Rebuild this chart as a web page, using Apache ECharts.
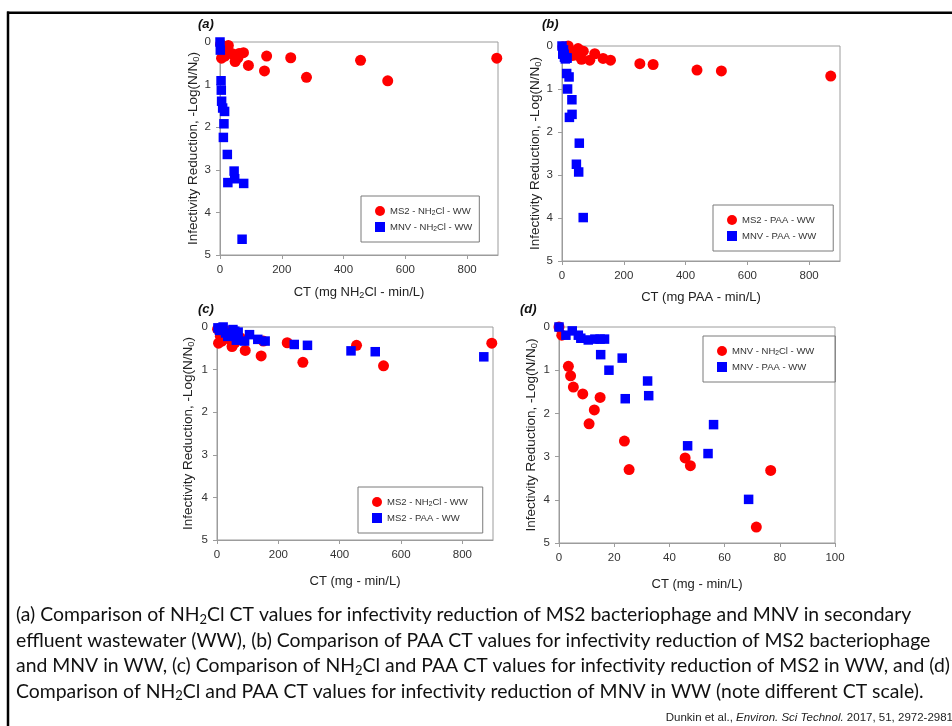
<!DOCTYPE html>
<html>
<head>
<meta charset="utf-8">
<script src="https://cdn.jsdelivr.net/npm/echarts@6/dist/echarts.min.js"></script>
<style>
  html, body { margin: 0; padding: 0; background: #ffffff; }
  #chart { width: 952px; height: 726px; }
</style>
</head>
<body>
<div id="chart"></div>
<script>
// Infectivity reduction data, each point is [CT (mg·min/L), -log(N/N0)]
const ms2Nh2cl = [
  [2, 0.05], [5, 0.38], [11, 0.22], [16, 0.33], [22, 0.12], [27, 0.08], [38, 0.27],
  [45, 0.30], [49, 0.46], [58, 0.37], [62, 0.27], [76, 0.25], [92, 0.55], [144, 0.68],
  [151, 0.33], [229, 0.37], [280, 0.83], [455, 0.43], [543, 0.91], [896, 0.38]
];
const mnvNh2cl = [
  [0, 0.0], [1, 0.19], [3.4, 0.91], [4.2, 1.13], [5.2, 1.39], [8.6, 1.55], [10.9, 2.24],
  [12.8, 1.92], [14.9, 1.63], [23.7, 2.64], [25.4, 3.30], [45.7, 3.03], [47.6, 3.21],
  [71.5, 4.63], [76.7, 3.32]
];
const ms2Paa = [
  [3, 0.02], [8, 0.08], [14, 0.03], [20, 0.0], [28, 0.14], [35, 0.22], [47, 0.21],
  [52, 0.06], [58, 0.10], [63, 0.31], [69, 0.12], [90, 0.33], [106, 0.18], [133, 0.29],
  [157, 0.33], [252, 0.41], [295, 0.43], [437, 0.56], [516, 0.58], [870, 0.70]
];
const mnvPaa = [
  [0, 0.0], [2.5, 0.19], [4.8, 0.09], [7.0, 0.19], [7.9, 0.26], [10.6, 0.30], [13.0, 0.28],
  [14.9, 0.28], [16.5, 0.28], [15.1, 0.64], [18.1, 1.00], [22.9, 0.72], [24.0, 1.66],
  [32.1, 1.25], [32.5, 1.59], [46.6, 2.75], [54.0, 2.93], [56.0, 2.26], [68.7, 3.99]
];

// Axis ticks
const ctTicksWide = [0, 200, 400, 600, 800];
const ctTicksNarrow = [0, 20, 40, 60, 80, 100];
const reductionTicks = [0, 1, 2, 3, 4, 5];

// Text
const panelLabels = ['(a)', '(b)', '(c)', '(d)'];
const xTitles = [
  'CT (mg NH{s|2}Cl - min/L)',
  'CT (mg PAA - min/L)',
  'CT (mg - min/L)',
  'CT (mg - min/L)'
];
const yTitle = 'Infectivity Reduction, -Log(N/N{s|0})';
const legendText = {
  'a-ms2': 'MS2 - NH{s|2}Cl - WW',
  'a-mnv': 'MNV - NH{s|2}Cl - WW',
  'b-ms2': 'MS2 - PAA - WW',
  'b-mnv': 'MNV - PAA - WW',
  'c-nh2cl': 'MS2 - NH{s|2}Cl - WW',
  'c-paa': 'MS2 - PAA - WW',
  'd-nh2cl': 'MNV - NH{s|2}Cl - WW',
  'd-paa': 'MNV - PAA - WW'
};
const captionLines = [
  '(a) Comparison of NH{s|2}Cl CT values for infectivity reduction of MS2 bacteriophage and MNV in secondary',
  'effluent wastewater (WW), (b) Comparison of PAA CT values for infectivity reduction of MS2 bacteriophage',
  'and MNV in WW, (c) Comparison of NH{s|2}Cl and PAA CT values for infectivity reduction of MS2 in WW, and (d)',
  'Comparison of NH{s|2}Cl and PAA CT values for infectivity reduction of MNV in WW (note different CT scale).'
];
const citation = 'Dunkin et al., {i|Environ. Sci Technol.} 2017, 51, 2972-2981';

const RED = '#ff0000';
const BLUE = '#0000ff';
const GRAY = '#9c9c9c';
const SANS = "Arial, 'Liberation Sans', sans-serif";

const grids = [
  { left: 220, top: 42, width: 278, height: 213 },
  { left: 562, top: 46, width: 278, height: 215 },
  { left: 217, top: 327, width: 276, height: 213 },
  { left: 559, top: 327, width: 276, height: 216 }
].map(g => Object.assign({ show: true, borderColor: GRAY, borderWidth: 1, backgroundColor: 'transparent' }, g));

const subRich = (base) => ({
  s: { fontFamily: SANS, fontSize: base * 0.7, lineHeight: 4, verticalAlign: 'bottom', color: '#222' }
});

// per-panel gaps between axis lines and their titles
const xNameGaps = [30, 29, 34, 34];
const yNameGaps = [18, 18, 21, 20];

function makeX(i, max, ticks) {
  return {
    type: 'value', gridIndex: i, min: 0, max: max,
    axisLine: { show: true, onZero: false, lineStyle: { color: GRAY } },
    axisTick: { show: true, customValues: ticks, length: 4, lineStyle: { color: GRAY } },
    axisLabel: { customValues: ticks, color: '#333', fontFamily: SANS, fontSize: 11.5, margin: 9 },
    splitLine: { show: false },
    name: xTitles[i], nameLocation: 'middle', nameGap: xNameGaps[i],
    nameTextStyle: { color: '#222', fontFamily: SANS, fontSize: 13, lineHeight: 15, rich: subRich(13) }
  };
}
function makeY(i) {
  return {
    type: 'value', gridIndex: i, min: 0, max: 5, interval: 1, inverse: true,
    axisLine: { show: true, onZero: false, lineStyle: { color: GRAY } },
    axisTick: { show: true, customValues: reductionTicks, length: 4, lineStyle: { color: GRAY } },
    axisLabel: { customValues: reductionTicks, color: '#333', fontFamily: SANS, fontSize: 11.5, margin: 9 },
    splitLine: { show: false },
    name: yTitle, nameLocation: 'middle', nameRotate: 90, nameGap: yNameGaps[i],
    nameTextStyle: { color: '#222', fontFamily: SANS, fontSize: 13.5, lineHeight: 15, rich: subRich(13.5) }
  };
}

function scatter(name, i, data, color, shape) {
  return {
    type: 'scatter', name: name, xAxisIndex: i, yAxisIndex: i, data: data,
    symbol: shape, symbolSize: shape === 'circle' ? 11 : 9.5,
    itemStyle: { color: color, opacity: 1 },
    emphasis: { disabled: true }, animation: false
  };
}

function makeLegend(names, left, top, padRight) {
  return {
    data: [{ name: names[0], icon: 'circle' }, { name: names[1], icon: 'rect' }],
    orient: 'vertical', left: left, top: top,
    itemWidth: 10, itemHeight: 10, itemGap: 4,
    padding: [9, padRight, 9, 14],
    borderColor: '#7a7a7a', borderWidth: 1, borderRadius: 0,
    selectedMode: false,
    formatter: n => legendText[n],
    textStyle: { color: '#333', fontFamily: SANS, fontSize: 9.5, lineHeight: 12, rich: subRich(9.5) }
  };
}

const panelLabelPos = [[198, 18], [542, 18], [198, 303], [520, 303]];
const graphics = [
  { type: 'line', shape: { x1: 7, y1: 12.75, x2: 952, y2: 12.75 }, style: { stroke: '#000', lineWidth: 2.5 } },
  { type: 'line', shape: { x1: 8, y1: 11.5, x2: 8, y2: 726 }, style: { stroke: '#000', lineWidth: 2.5 } }
];
panelLabels.forEach((t, i) => {
  graphics.push({
    type: 'text', x: panelLabelPos[i][0], y: panelLabelPos[i][1],
    style: { text: t, fontFamily: SANS, fontSize: 13, fontWeight: 'bold', fontStyle: 'italic', fill: '#111' }
  });
});
captionLines.forEach((t, i) => {
  graphics.push({
    type: 'text', x: 16, y: 615 + i * 25.5,
    style: {
      text: t, fontFamily: 'Lato', fontSize: 19.4, lineHeight: 22, fill: '#111', verticalAlign: 'middle',
      rich: { s: { fontFamily: 'Lato', fontSize: 13, lineHeight: 6, verticalAlign: 'bottom', fill: '#111' } }
    }
  });
});
graphics.push({
  type: 'text', x: 953, y: 718,
  style: {
    text: citation, fontFamily: SANS, fontSize: 11.5, lineHeight: 13, fill: '#222', align: 'right', verticalAlign: 'middle',
    rich: { i: { fontFamily: SANS, fontSize: 11.5, fontStyle: 'italic', fill: '#222' } }
  }
});

const option = {
  backgroundColor: '#ffffff',
  animation: false,
  grid: grids,
  xAxis: [makeX(0, 900, ctTicksWide), makeX(1, 900, ctTicksWide), makeX(2, 900, ctTicksWide), makeX(3, 100, ctTicksNarrow)],
  yAxis: [makeY(0), makeY(1), makeY(2), makeY(3)],
  legend: [
    makeLegend(['a-ms2', 'a-mnv'], 361, 196, 7),
    makeLegend(['b-ms2', 'b-mnv'], 713, 205, 17),
    makeLegend(['c-nh2cl', 'c-paa'], 358, 487, 15),
    makeLegend(['d-nh2cl', 'd-paa'], 703, 336, 21)
  ],
  series: [
    scatter('a-ms2', 0, ms2Nh2cl, RED, 'circle'),
    scatter('a-mnv', 0, mnvNh2cl, BLUE, 'rect'),
    scatter('b-ms2', 1, ms2Paa, RED, 'circle'),
    scatter('b-mnv', 1, mnvPaa, BLUE, 'rect'),
    scatter('c-nh2cl', 2, ms2Nh2cl, RED, 'circle'),
    scatter('c-paa', 2, ms2Paa, BLUE, 'rect'),
    scatter('d-nh2cl', 3, mnvNh2cl, RED, 'circle'),
    scatter('d-paa', 3, mnvPaa, BLUE, 'rect')
  ],
  graphic: graphics
};

const chart = echarts.init(document.getElementById('chart'), null, { renderer: 'canvas' });
chart.setOption(option);
</script>
</body>
</html>
